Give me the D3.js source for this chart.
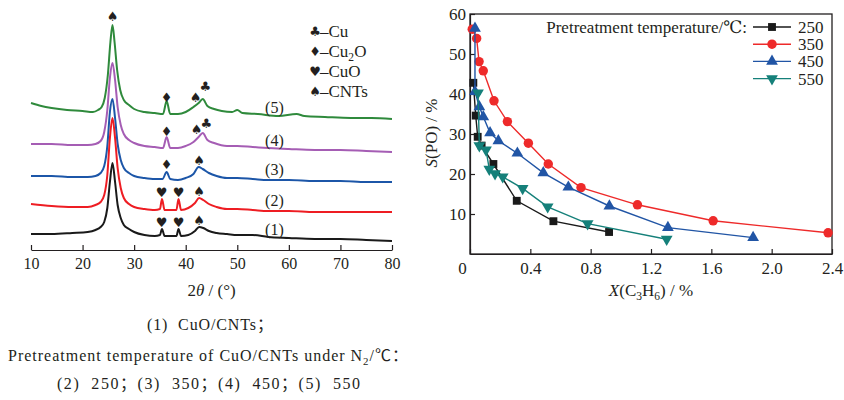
<!DOCTYPE html>
<html lang="en">
<head>
<meta charset="UTF-8">
<title>XRD patterns and PO selectivity</title>
<script src="https://d3js.org/d3.v7.min.js"></script>
<style>
  body { margin: 0; background: #fff; }
  svg text { font-family: "Liberation Serif", "DejaVu Serif", serif; fill: #231f20; }
  .axis path, .axis line { stroke: #231f20; stroke-width: 1.2; }
  .axis text { font-family: "Liberation Serif", serif; fill: #231f20; }
  .sym { font-family: "DejaVu Sans", sans-serif; }
</style>
</head>
<body>
<div id="chart"></div>
<script>
// ---- left panel : XRD patterns, [2theta, intensity] ----
const xrd1 = [[10,16],[14,16],[18,17],[21,18],[22.5,20],[23.5,23],[24.2,28],[24.8,42],[25.3,68],[25.8,87],[26.3,68],[26.8,45],[27.4,32],[28,25],[29,21],[30,18],[32,15],[34,14],[35,15],[35.4,21],[35.9,14],[37,14],[38.2,14],[38.6,21],[39.1,14],[40.5,15],[41.8,19],[42.6,23],[43.4,22],[44.5,19],[46,17],[48,16],[50,15],[53,15],[56,13],[60,12],[65,11],[70,11],[75,10],[80,9]];
const xrd2 = [[10,46],[14,44],[18,43],[21,43],[22.5,45],[23.5,48],[24.2,55],[24.8,75],[25.3,112],[25.8,132],[26.3,112],[26.8,82],[27.4,62],[28,52],[29,46],[30,43],[32,41],[34,40],[35,41],[35.4,51],[35.9,40],[37,40],[38.2,40],[38.6,51],[39.1,40],[40.5,42],[41.8,47],[42.6,52],[43.4,50],[44.5,46],[46,43],[48,41],[50,41],[53,40],[56,39],[60,39],[65,38],[70,38],[75,38],[80,38]];
const xrd3 = [[10,74],[14,74],[18,73],[21,73],[22.5,74],[23.5,77],[24.2,84],[24.8,104],[25.3,138],[25.8,151],[26.3,132],[26.8,106],[27.4,90],[28,82],[29,77],[30,74],[32,72],[34,71],[35.5,71],[36.3,78],[37,71],[38.5,70],[40,72],[41.5,76],[42.5,83],[43.3,81],[44.5,77],[46,74],[48,72],[50,72],[53,71],[56,70],[60,70],[65,69],[70,69],[75,68],[80,68]];
const xrd4 = [[10,106],[14,106],[18,105],[21,105],[22.5,106],[23.5,109],[24.2,118],[24.8,140],[25.3,172],[25.8,187],[26.3,170],[26.8,143],[27.4,125],[28,116],[29,110],[30,107],[32,104],[34,103],[35.6,102],[36.3,113],[37,102],[38.5,102],[40,104],[41.5,108],[42.5,113],[43.3,117],[44.2,110],[45.5,107],[48,104],[50,104],[53,103],[56,102],[60,101],[65,100],[70,100],[75,99],[80,98]];
const xrd5 = [[10,147],[12,144],[14,142],[17,140],[20,139],[22,138],[23,140],[23.7,143],[24.3,152],[24.9,175],[25.4,208],[25.8,225],[26.2,208],[26.7,180],[27.3,160],[28,150],[29,145],[30,141],[32,138],[34,137],[35.6,136],[36.3,149],[37,136],[38.5,136],[40,138],[41.5,143],[42.5,147],[43.3,151],[44.2,144],[45.5,141],[47,139],[49,138],[50,140],[51,137],[54,136],[58,134],[61.5,136],[63,134],[67,133],[72,132],[76,132],[80,131]];
const xrdPatterns = [xrd1, xrd2, xrd3, xrd4, xrd5];
const xrdNames = ['(1)', '(2)', '(3)', '(4)', '(5)'];
const xrdColors = ['#1a1a1a', '#ee1d23', '#1c56a8', '#a55db4', '#2f8a3c'];
const xrdLabelLevel = [21, 50, 81, 110, 143];
const xrdTicks = [10, 20, 30, 40, 50, 60, 70, 80];

// phase markers : [2theta, intensity, symbol]
const phaseMarks = [
  [25.8, 234, '\u2660'],
  [36.3, 153, '\u2666'], [36.3, 119, '\u2666'], [36.3, 86, '\u2666'],
  [35.3, 28, '\u2665'], [38.6, 28, '\u2665'], [35.3, 58, '\u2665'], [38.6, 58, '\u2665'],
  [42.6, 30, '\u2660'], [42.6, 59, '\u2660'], [42.6, 90, '\u2660'],
  [41.9, 153, '\u2660'], [43.8, 164, '\u2663'],
  [42.1, 121, '\u2660'], [44.0, 127, '\u2663']
];
const phaseLegend = [
  ['\u2663', [{t: '\u2013Cu'}]],
  ['\u2666', [{t: '\u2013Cu'}, {t: '2', sub: true}, {t: 'O'}]],
  ['\u2665', [{t: '\u2013CuO'}]],
  ['\u2660', [{t: '\u2013CNTs'}]]
];

// ---- right panel : selectivity vs conversion ----
const temps = ['250', '350', '450', '550'];
const conv250 = [0.022, 0.038, 0.051, 0.077, 0.155, 0.31, 0.553, 0.922];
const sel250 = [42.8, 34.6, 29.3, 27.1, 22.5, 13.3, 8.2, 5.5];
const conv350 = [0.015, 0.044, 0.06, 0.088, 0.159, 0.248, 0.387, 0.519, 0.736, 1.11, 1.612, 2.374];
const sel350 = [56.2, 53.9, 48.1, 45.8, 38.3, 33.1, 27.7, 22.5, 16.6, 12.3, 8.3, 5.3];
const conv450 = [0.033, 0.033, 0.062, 0.088, 0.133, 0.188, 0.314, 0.486, 0.652, 0.924, 1.312, 1.877];
const sel450 = [56.4, 40.6, 36.8, 34.3, 30.3, 28.3, 25.2, 20.3, 16.7, 12.0, 6.6, 4.1];
const conv550 = [0.053, 0.062, 0.106, 0.128, 0.166, 0.217, 0.349, 0.515, 0.78, 1.304];
const sel550 = [40.3, 27.1, 26.0, 21.2, 20.1, 19.3, 16.4, 11.8, 7.6, 3.7];
const convSets = [conv250, conv350, conv450, conv550];
const selSets = [sel250, sel350, sel450, sel550];
const selColors = ['#1a1a1a', '#ee2a2a', '#2155a5', '#15807a'];
const xTicksR = [0, 0.4, 0.8, 1.2, 1.6, 2.0, 2.4];
const yTicksR = [10, 20, 30, 40, 50, 60];

const captionLines = [
  [{t: '(1)  CuO/CNTs\uff1b'}],
  [{t: 'Pretreatment temperature of CuO/CNTs under N'}, {t: '2', sub: true}, {t: '/\u2103\uff1a'}],
  [{t: '(2)  250\uff1b(3)  350\uff1b(4)  450\uff1b(5)  550'}]
];

// writes text parts with subscripts / italics into a text element
function richText(el, parts) {
  let shifted = false;
  parts.forEach(p => {
    const ts = el.append('tspan').text(p.t);
    if (p.it) ts.attr('font-style', 'italic');
    if (p.sub) {
      ts.attr('font-size', '0.68em').attr('dy', shifted ? 0 : 3.5);
      shifted = true;
    } else if (shifted) {
      ts.attr('dy', -3.5);
      shifted = false;
    }
  });
  return el;
}

const svg = d3.select('#chart').append('svg')
  .attr('width', 844).attr('height', 400)
  .style('background', '#fff');

// ================= left panel =================
const xL = d3.scaleLinear().domain([10, 80]).range([31, 392]);
const yL = d3.scaleLinear().domain([0, 240]).range([250, 10]);

svg.append('g').attr('class', 'axis')
  .attr('transform', 'translate(0,250)')
  .call(d3.axisBottom(xL).tickValues(xrdTicks).tickSize(-5).tickSizeOuter(0).tickPadding(8))
  .selectAll('text').attr('font-size', 16);

const xrdLine = d3.line()
  .x(d => xL(d[0]))
  .y(d => yL(d[1]))
  .curve(d3.curveMonotoneX);

[4, 3, 2, 1, 0].forEach(i => {
  svg.append('path')
    .datum(xrdPatterns[i])
    .attr('d', xrdLine)
    .attr('fill', 'none')
    .attr('stroke', xrdColors[i])
    .attr('stroke-width', 2)
    .attr('stroke-linejoin', 'round');
  svg.append('text')
    .attr('x', xL(57.2)).attr('y', yL(xrdLabelLevel[i]) + 5.5)
    .attr('text-anchor', 'middle').attr('font-size', 16)
    .text(xrdNames[i]);
});

svg.selectAll('.phase')
  .data(phaseMarks).enter().append('text')
  .attr('class', 'sym')
  .attr('x', d => xL(d[0])).attr('y', d => yL(d[1]) + 4.5)
  .attr('text-anchor', 'middle').attr('font-size', 13)
  .text(d => d[2]);

phaseLegend.forEach((row, i) => {
  const cy = 31 + i * 20;
  svg.append('text').attr('class', 'sym')
    .attr('x', 315).attr('y', cy + 4.5)
    .attr('text-anchor', 'middle').attr('font-size', 13)
    .text(row[0]);
  richText(svg.append('text').attr('x', 320).attr('y', cy + 6).attr('font-size', 17), row[1]);
});

richText(svg.append('text')
  .attr('x', xL(45)).attr('y', 296)
  .attr('text-anchor', 'middle').attr('font-size', 17),
  [{t: '2'}, {t: '\u03b8', it: true}, {t: ' / (\u00b0)'}]);

// ================= right panel =================
const xR = d3.scaleLinear().domain([0, 2.4]).range([470, 832]);
const yR = d3.scaleLinear().domain([0, 60]).range([254, 14]);

svg.append('rect')
  .attr('x', xR(0)).attr('y', yR(60))
  .attr('width', xR(2.4) - xR(0)).attr('height', yR(0) - yR(60))
  .attr('fill', 'none').attr('stroke', '#231f20').attr('stroke-width', 1.3);

const gxR = svg.append('g').attr('class', 'axis')
  .attr('transform', `translate(0,${yR(0)})`)
  .call(d3.axisBottom(xR).tickValues(xTicksR).tickSize(-5).tickSizeOuter(0).tickPadding(8)
    .tickFormat(d => d === 0 ? '0' : d.toFixed(1)));
gxR.selectAll('text').attr('font-size', 17);
gxR.selectAll('.tick').filter(d => d === 0).select('text').attr('x', -8);

svg.append('g').attr('class', 'axis')
  .attr('transform', `translate(${xR(0)},0)`)
  .call(d3.axisLeft(yR).tickValues(yTicksR).tickSize(-5).tickSizeOuter(0).tickPadding(4))
  .selectAll('text').attr('font-size', 17);

const selLine = d3.line().x(d => xR(d[0])).y(d => yR(d[1]));
const symbolTypes = [d3.symbolSquare, d3.symbolCircle, d3.symbolTriangle, d3.symbolTriangle];
const symbolSizes = [62, 70, 60, 60];

function marker(g, i, x, y) {
  g.append('path')
    .attr('d', d3.symbol().type(symbolTypes[i]).size(symbolSizes[i]))
    .attr('transform', `translate(${x},${y})` + (i === 3 ? ' rotate(180)' : ''))
    .attr('fill', selColors[i]);
}

convSets.forEach((conv, i) => {
  const pts = conv.map((c, j) => [c, selSets[i][j]]);
  const g = svg.append('g');
  g.append('path')
    .datum(pts)
    .attr('d', selLine)
    .attr('fill', 'none')
    .attr('stroke', selColors[i])
    .attr('stroke-width', 1.4);
  pts.forEach(p => marker(g, i, xR(p[0]), yR(p[1])));
});

// legend
svg.append('text')
  .attr('x', 747).attr('y', 33)
  .attr('text-anchor', 'end').attr('font-size', 17)
  .text('Pretreatment temperature/\u2103:');
temps.forEach((t, i) => {
  const cy = 27 + i * 17.2;
  const g = svg.append('g');
  g.append('line')
    .attr('x1', 753).attr('x2', 791).attr('y1', cy).attr('y2', cy)
    .attr('stroke', selColors[i]).attr('stroke-width', 1.4);
  marker(g, i, 772, cy);
  g.append('text').attr('x', 798).attr('y', cy + 6).attr('font-size', 17).text(t);
});

richText(svg.append('text')
  .attr('transform', 'translate(437,133) rotate(-90)')
  .attr('text-anchor', 'middle').attr('font-size', 17),
  [{t: 'S', it: true}, {t: '(PO) / %'}]);

richText(svg.append('text')
  .attr('x', 651).attr('y', 296)
  .attr('text-anchor', 'middle').attr('font-size', 17),
  [{t: 'X', it: true}, {t: '(C'}, {t: '3', sub: true}, {t: 'H'}, {t: '6', sub: true}, {t: ') / %'}]);

// ================= caption =================
const capY = [330, 361, 389];
const capX = [210, 208, 208.5];
const capW = [126, 400, 303];
captionLines.forEach((parts, i) => {
  richText(svg.append('text')
    .attr('x', capX[i]).attr('y', capY[i])
    .attr('text-anchor', 'middle').attr('font-size', 16)
    .attr('textLength', capW[i]).attr('lengthAdjust', 'spacing')
    .style('white-space', 'pre')
    .style('font-family', '"Liberation Serif", "Noto Sans CJK SC", serif'),
    parts);
});
</script>
</body>
</html>
